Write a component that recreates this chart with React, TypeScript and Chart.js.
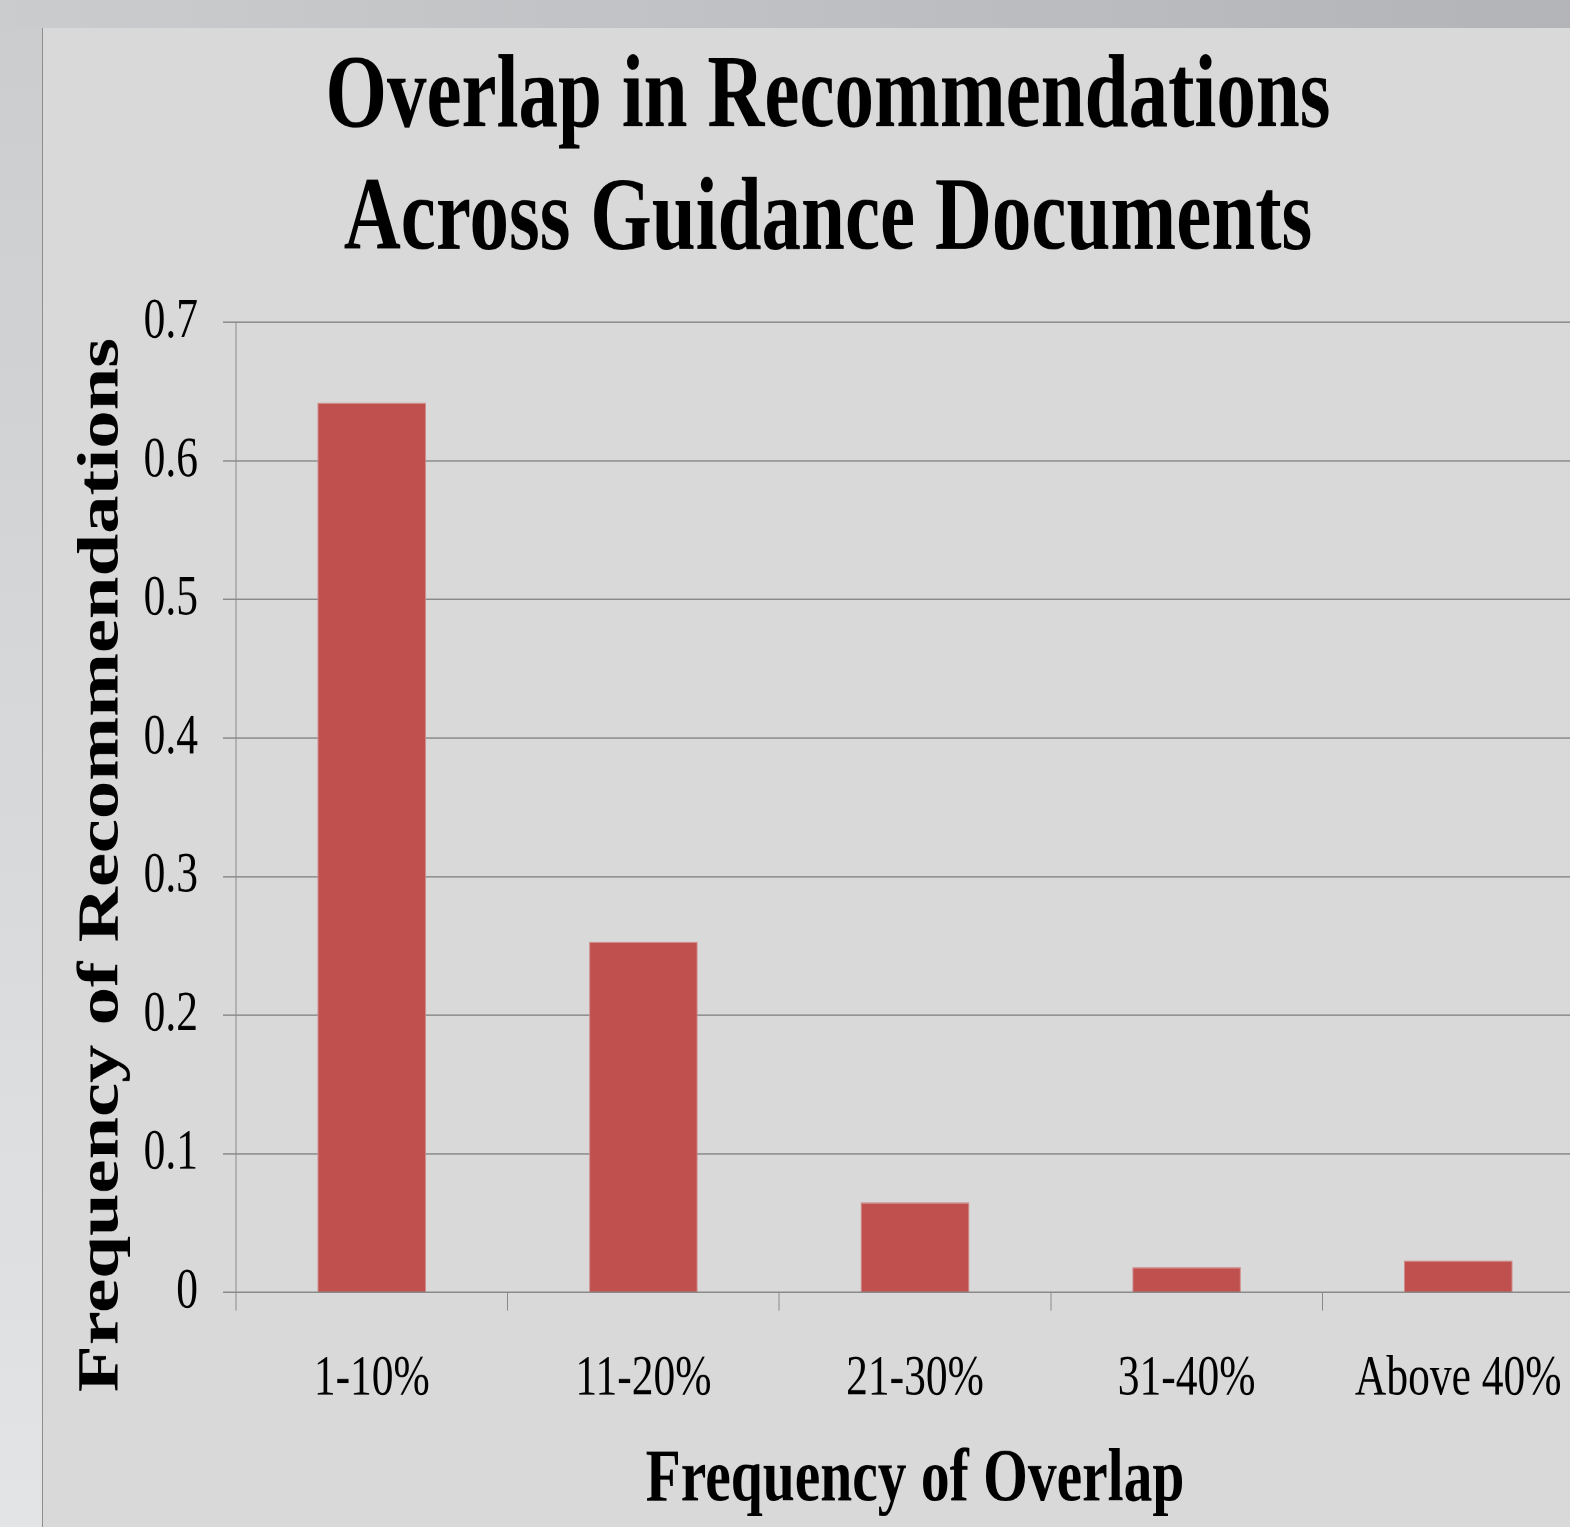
import React, { useEffect, useRef } from "react";
import { Chart, registerables } from "chart.js";

Chart.register(...registerables);

// ---- data ----
const categories = ["1-10%", "11-20%", "21-30%", "31-40%", "Above 40%"];
const frequencies = [0.642, 0.253, 0.065, 0.018, 0.023];
const yTickLabels = ["0", "0.1", "0.2", "0.3", "0.4", "0.5", "0.6", "0.7"];
const titleLines = ["Overlap in Recommendations", "Across Guidance Documents"];
const xAxisTitle = "Frequency of Overlap";
const yAxisTitle = "Frequency of Recommendations";

// ---- layout / style ----
const K = 1.31; // vertical stretch of the original picture
const W = 1570;
const H = 1144;
const GRID = "#8a8a8a";
const FONT = "Liberation Serif";

export default function App() {
  const ref = useRef<HTMLCanvasElement | null>(null);

  useEffect(() => {
    if (!ref.current) return;
    const yTitlePlugin = {
      id: "yTitleDraw",
      afterDraw(chart: any) {
        const ctx = chart.ctx as CanvasRenderingContext2D;
        ctx.save();
        ctx.translate(59.5, 639);
        ctx.rotate(-Math.PI / 2);
        ctx.font = `bold 58.5px "${FONT}"`;
        ctx.fillStyle = "#000";
        ctx.textAlign = "center";
        ctx.textBaseline = "middle";
        ctx.fillText(yAxisTitle, 0, 0);
        ctx.restore();
      },
    };
    const chart = new Chart(ref.current, {
      type: "bar",
      data: {
        labels: categories,
        datasets: [
          {
            data: frequencies,
            backgroundColor: "#c0504d",
            borderColor: "#d08c8a",
            borderWidth: 1,
            categoryPercentage: 1,
            barPercentage: 0.4,
          },
        ],
      },
      options: {
        animation: false,
        responsive: false,
        maintainAspectRatio: false,
        devicePixelRatio: 2,
        layout: { padding: { left: 19, right: 19, top: 0, bottom: 0 } },
        plugins: {
          legend: { display: false },
          tooltip: { enabled: false },
          title: {
            display: true,
            text: titleLines,
            color: "#000",
            font: { family: FONT, size: 79, weight: "bold", lineHeight: 1.1835 },
            padding: { top: 7.9, bottom: 29.8 },
          },
        },
        scales: {
          x: {
            grid: {
              display: true,
              drawOnChartArea: false,
              drawTicks: true,
              tickLength: 14,
              color: GRID,
              lineWidth: 1,
              offset: true,
            },
            border: { display: true, color: GRID, width: 1 },
            ticks: {
              color: "#000",
              font: { family: FONT, size: 43.5, lineHeight: 1.2 },
              padding: 26.5,
              maxRotation: 0,
              autoSkip: false,
            },
            title: {
              display: true,
              text: xAxisTitle,
              color: "#000",
              font: { family: FONT, size: 57.5, weight: "bold", lineHeight: 1.2 },
              padding: { top: 0, bottom: 0.6 },
            },
            afterFit: (s: any) => {
              s.height = 178.9;
            },
          },
          y: {
            min: 0,
            max: 0.7,
            ticks: {
              stepSize: 0.1,
              color: "#000",
              font: { family: FONT, size: 43.5, lineHeight: 1.2 },
              padding: 25,
              callback: (_v: any, i: number) => yTickLabels[i],
            },
            grid: { color: GRID, lineWidth: 1, tickLength: 13, drawTicks: true },
            border: { display: true, color: GRID, width: 1 },
            afterFit: (s: any) => {
              s.width = 174;
            },
          },
        },
      },
      plugins: [yTitlePlugin],
    } as any);
    return () => chart.destroy();
  }, []);

  return (
    <div
      style={{
        position: "fixed",
        left: 0,
        top: 0,
        width: 1570,
        height: 1527,
        overflow: "hidden",
        background: "linear-gradient(to bottom, #cbccce, #e3e4e6)",
      }}
    >
      <div
        style={{
          position: "absolute",
          left: 0,
          top: 0,
          width: 1570,
          height: 28,
          background: "linear-gradient(to right, #cbccce, #b3b4b7)",
        }}
      />
      <div
        style={{
          position: "absolute",
          left: 42,
          top: 28,
          width: 1,
          height: 1499,
          background: "#8d8d8d",
        }}
      />
      <div
        style={{
          position: "absolute",
          left: 43,
          top: 28,
          width: 1527,
          height: 1499,
          background: "#d9d9d9",
          overflow: "hidden",
        }}
      >
        <div
          style={{
            position: "absolute",
            left: 0,
            top: 0,
            width: W,
            height: H,
            transform: `scaleY(${K})`,
            transformOrigin: "0 0",
          }}
        >
          <canvas ref={ref} width={W} height={H} style={{ width: W, height: H }} />
        </div>
      </div>
    </div>
  );
}
